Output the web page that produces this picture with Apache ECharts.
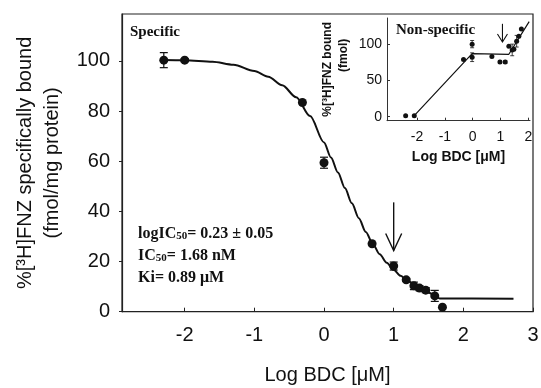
<!DOCTYPE html>
<html>
<head>
<meta charset="utf-8">
<script src="https://cdn.jsdelivr.net/npm/echarts@6/dist/echarts.min.js"></script>
<style>html,body{margin:0;padding:0;background:#fff}#c{width:541px;height:388px}</style>
</head>
<body>
<div id="c"></div>
<script>
// ---- Main panel (specific binding) ----
const specX   = [-2.3, -2.0, -0.31, 0.0, 0.69, 1.0, 1.18, 1.29, 1.37, 1.46, 1.59, 1.70];
const specY   = [100.3, 100.3, 83.4, 59.4, 27.1, 18.2, 12.7, 10.3, 9.4, 8.6, 6.3, 1.8];
const specErr = [3.0, 0.6, 0, 2.2, 0, 1.6, 0.6, 1.5, 1.0, 1.0, 2.2, 0];
const curveX  = [-2.31, -2.0, -1.6, -1.3, -1.0, -0.8, -0.6, -0.4, -0.2, 0.0, 0.1, 0.2, 0.3, 0.4, 0.5, 0.6, 0.7, 0.8, 0.9, 1.0, 1.1, 1.2, 1.3, 1.4, 1.5, 1.6, 1.66, 2.72];
const curveY  = [100.4, 100.3, 99.7, 98.5, 96.0, 93.7, 90.3, 85.5, 78.0, 67.5, 61.5, 55.5, 49.3, 43.2, 37.3, 31.8, 27.0, 22.9, 19.5, 16.7, 14.3, 12.3, 10.6, 9.1, 7.7, 6.3, 5.3, 5.2];
const mainXTicks = [-2, -1, 0, 1, 2, 3];
const mainYTicks = [0, 20, 40, 60, 80, 100];
const mainArrow = [1.0, 43.6, 24.4]; // x, y start, y tip

// ---- Inset (non-specific binding) ----
const nsX   = [-2.41, -2.1, -0.33, -0.02, -0.02, 0.69, 0.98, 1.17, 1.30, 1.42, 1.48, 1.58, 1.66, 1.75];
const nsY   = [1.4, 1.4, 78.7, 100, 82, 83, 75.5, 75.5, 97, 92, 93, 104, 111, 121];
const nsErr = [0, 0, 0, 5, 6, 0, 2, 2, 0, 8, 0, 8, 0, 0];
const nsLineX = [-2.1, -0.02, 1.3, 2.03];
const nsLineY = [1.4, 87, 86, 131];
const insetXTicks = [-2, -1, 0, 1, 2];
const insetYTicks = [0, 50, 100];
const insetArrow = [1.07, 128, 103];

const SANS = 'Liberation Sans, Arial, sans-serif';
const SERIF = 'Liberation Serif, Times New Roman, serif';
const INK = '#111';

const zip3 = (a, b, c) => a.map((v, i) => [v, b[i], c[i]]);
const zip2 = (a, b) => a.map((v, i) => [v, b[i]]);

function errRender(cap, lw) {
  return function (params, api) {
    const x = api.value(0), y = api.value(1), e = api.value(2);
    if (!e) return null;
    const t = api.coord([x, y + e]), b = api.coord([x, y - e]);
    const st = { stroke: INK, lineWidth: lw };
    return { type: 'group', children: [
      { type: 'line', shape: { x1: t[0], y1: t[1], x2: b[0], y2: b[1] }, style: st },
      { type: 'line', shape: { x1: t[0] - cap, y1: t[1], x2: t[0] + cap, y2: t[1] }, style: st },
      { type: 'line', shape: { x1: b[0] - cap, y1: b[1], x2: b[0] + cap, y2: b[1] }, style: st }
    ]};
  };
}
function arrowRender(hw, hh, lw) {
  return function (params, api) {
    const x = api.value(0);
    const s = api.coord([x, api.value(1)]), t = api.coord([x, api.value(2)]);
    const st = { stroke: INK, lineWidth: lw, fill: null };
    return { type: 'group', children: [
      { type: 'line', shape: { x1: s[0], y1: s[1], x2: t[0], y2: t[1] }, style: st },
      { type: 'polyline', shape: { points: [[t[0] - hw, t[1] - hh], [t[0], t[1]], [t[0] + hw, t[1] - hh]] }, style: st }
    ]};
  };
}

const chart = echarts.init(document.getElementById('c'), null, { renderer: 'canvas' });
chart.setOption({
  animation: false,
  backgroundColor: '#fff',
  grid: [
    { left: 122, top: 14, width: 411, height: 297.7, containLabel: false, outerBoundsMode: 'none',
      show: true, borderColor: '#222', borderWidth: 1.2, backgroundColor: 'transparent' },
    { left: 387, top: 18, width: 143, height: 102.7, containLabel: false, outerBoundsMode: 'none' }
  ],
  xAxis: [
    { type: 'value', gridIndex: 0, min: -2.9, max: 3,
      axisLine: { onZero: false, lineStyle: { color: '#222', width: 1.2 } },
      axisTick: { inside: true, length: 4, customValues: mainXTicks, lineStyle: { color: '#222' } },
      axisLabel: { customValues: mainXTicks, fontSize: 20, fontFamily: SANS, color: INK, margin: 14 },
      splitLine: { show: false },
      name: 'Log BDC [μM]', nameLocation: 'middle', nameGap: 54,
      nameTextStyle: { fontSize: 20, fontFamily: SANS, color: INK } },
    { type: 'value', gridIndex: 1, min: -3.08, max: 2.06,
      axisLine: { onZero: false, lineStyle: { color: '#333', width: 1 } },
      axisTick: { inside: true, length: 3, customValues: insetXTicks, lineStyle: { color: '#333' } },
      axisLabel: { customValues: insetXTicks, fontSize: 14, fontFamily: SANS, color: INK, margin: 9 },
      splitLine: { show: false },
      name: 'Log BDC [μM]', nameLocation: 'middle', nameGap: 29,
      nameTextStyle: { fontSize: 14, fontWeight: 'bold', fontFamily: SANS, color: INK } }
  ],
  yAxis: [
    { type: 'value', gridIndex: 0, min: 0, max: 118.7,
      axisLine: { show: true, onZero: false, lineStyle: { color: '#222', width: 1.2 } },
      axisTick: { show: true, inside: false, length: 3, customValues: mainYTicks, lineStyle: { color: '#222' } },
      axisLabel: { customValues: mainYTicks, fontSize: 20, fontFamily: SANS, color: INK, margin: 12 },
      splitLine: { show: false },
      name: '%[³H]FNZ specifically bound\n(fmol/mg protein)', nameLocation: 'middle', nameGap: 56,
      nameTextStyle: { fontSize: 20, fontFamily: SANS, color: INK, lineHeight: 27 } },
    { type: 'value', gridIndex: 1, min: -5.5, max: 136,
      axisLine: { show: true, onZero: false, lineStyle: { color: '#333', width: 1 } },
      axisTick: { show: true, inside: true, length: 3, customValues: insetYTicks, lineStyle: { color: '#333' } },
      axisLabel: { customValues: insetYTicks, fontSize: 14, fontFamily: SANS, color: INK, margin: 5 },
      splitLine: { show: false },
      name: '{a|%[³H]FNZ bound}\n{b|(fmol)}', nameLocation: 'middle', nameGap: 35,
      nameTextStyle: { fontSize: 12, fontWeight: 'bold', fontFamily: SANS, color: INK, lineHeight: 16,
        rich: { a: { fontSize: 12, fontWeight: 'bold', fontFamily: SANS, color: INK, lineHeight: 16 },
                b: { fontSize: 12, fontWeight: 'bold', fontFamily: SANS, color: INK, lineHeight: 16, padding: [0, 0, 0, 28] } } } }
  ],
  series: [
    { type: 'line', xAxisIndex: 0, yAxisIndex: 0, data: zip2(curveX, curveY), smooth: 0.3, smoothMonotone: 'x',
      showSymbol: false, lineStyle: { color: INK, width: 2 }, z: 2 },
    { type: 'custom', xAxisIndex: 0, yAxisIndex: 0, data: zip3(specX, specY, specErr), renderItem: errRender(4, 1.2),
      encode: { x: 0, y: 1 }, z: 3 },
    { type: 'scatter', xAxisIndex: 0, yAxisIndex: 0, data: zip2(specX, specY), symbolSize: 9,
      itemStyle: { color: INK, opacity: 1 }, z: 4 },
    { type: 'custom', xAxisIndex: 0, yAxisIndex: 0, data: [mainArrow], renderItem: arrowRender(8, 17, 1.4),
      encode: { x: 0, y: 1 }, z: 4 },
    { type: 'line', xAxisIndex: 1, yAxisIndex: 1, data: zip2(nsLineX, nsLineY),
      showSymbol: false, lineStyle: { color: INK, width: 1.2 }, z: 2 },
    { type: 'custom', xAxisIndex: 1, yAxisIndex: 1, data: zip3(nsX, nsY, nsErr), renderItem: errRender(2, 0.8),
      encode: { x: 0, y: 1 }, z: 3 },
    { type: 'scatter', xAxisIndex: 1, yAxisIndex: 1, data: zip2(nsX, nsY), symbolSize: 5,
      itemStyle: { color: INK, opacity: 1 }, z: 4 },
    { type: 'custom', xAxisIndex: 1, yAxisIndex: 1, data: [insetArrow], renderItem: arrowRender(5, 8, 1.1),
      encode: { x: 0, y: 1 }, z: 4 }
  ],
  graphic: [
    { type: 'text', left: 130, top: 25, style: { text: 'Specific', font: 'bold 15px ' + SERIF, fill: INK } },
    { type: 'text', left: 396, top: 23, style: { text: 'Non-specific', font: 'bold 15px ' + SERIF, fill: INK } },
    { type: 'text', left: 138, top: 223,
      style: { text: 'logIC{s|50}= 0.23 ± 0.05\nIC{s|50}= 1.68 nM\nKi= 0.89 μM',
        font: 'bold 16px ' + SERIF, fill: INK, lineHeight: 22,
        rich: { s: { font: 'bold 11px ' + SERIF, fill: INK, lineHeight: 22, padding: [4, 0, 0, 0] } } } }
  ]
});
</script>
</body>
</html>
